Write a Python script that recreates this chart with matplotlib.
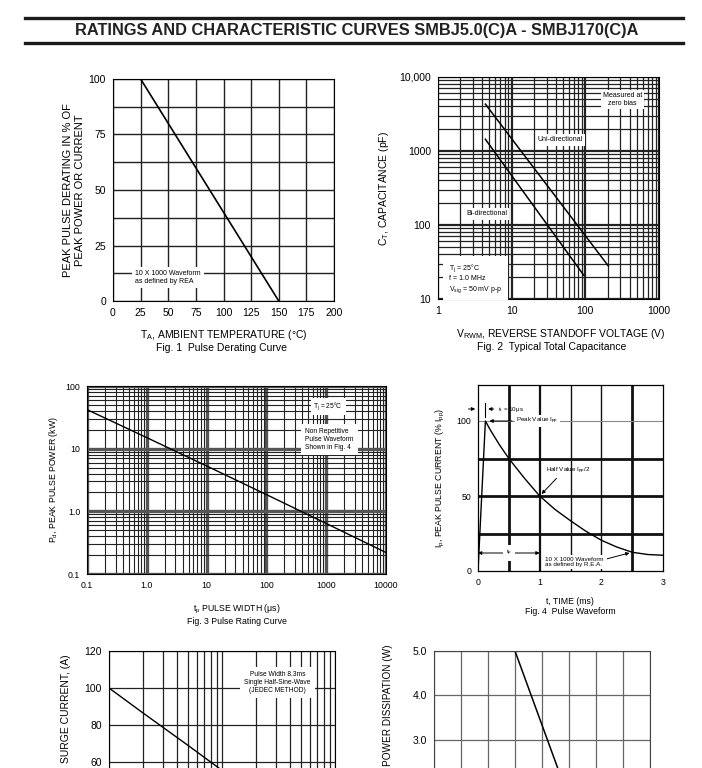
import numpy as np
import matplotlib
matplotlib.use("Agg")
import matplotlib.pyplot as plt
from matplotlib.ticker import LogLocator, FixedLocator, NullFormatter

plt.rcParams['font.family'] = ['Liberation Sans', 'DejaVu Sans']
plt.rcParams['mathtext.default'] = 'regular'

W, H = 702, 768

# Fig. 1 pulse derating
f1_temp = [0, 25, 150]
f1_pct = [100, 100, 0]

# Fig. 2 capacitance
f2_uni_v = [4.4, 205]
f2_uni_c = [4300, 28]
f2_bi_v = [4.4, 95]
f2_bi_c = [1440, 21]

# Fig. 3 pulse rating
f3_tp = [0.1, 1, 10, 100, 1000, 10000]
f3_pd = [42, 15, 5.3, 1.85, 0.64, 0.22]

# Fig. 4 pulse waveform
f4_t = [0, 0.12, 0.2, 0.35, 0.5, 0.75, 1.0, 1.25, 1.5, 1.75, 2.0, 2.25, 2.5, 2.75, 3.0]
f4_i = [0, 100, 94, 84, 75, 62, 50, 41, 33.5, 26.5, 20.5, 16, 12.5, 11, 10.5]

# Fig. 5 surge current (only the top of this chart is on the page)
f5_cycles = [1, 2, 5, 10, 20, 50, 100]
f5_amps = [100, 86.5, 69, 55.5, 42, 25, 11]

# Fig. 6 power dissipation
f6_temp = [0, 75, 150]
f6_watt = [5.0, 5.0, 0]


def box(l, t, r, b):
    return [l / W, (H - b) / H, (r - l) / W, (b - t) / H]


def ftext(x, y, s, **kw):
    fig.text(x / W, (H - y) / H, s, **kw)


wbox = dict(fc='white', ec='none', pad=1.5)

fig = plt.figure(figsize=(W / 100, H / 100), dpi=100)

# title and rules
fig.add_artist(plt.Line2D([25 / W, 683 / W], [(H - 18) / H] * 2, color='#1a1a1a', lw=2.4))
fig.add_artist(plt.Line2D([25 / W, 683 / W], [(H - 43) / H] * 2, color='#1a1a1a', lw=2.4))
ftext(357, 31, 'RATINGS AND CHARACTERISTIC CURVES SMBJ5.0(C)A - SMBJ170(C)A',
      ha='center', va='center', fontsize=11.8, fontweight='bold', color='#222')

# ---------- Fig 1 ----------
ax = fig.add_axes(box(113, 79, 334, 301))
ax.plot(f1_temp, f1_pct, color='black', lw=1.2)
ax.set_xlim(0, 200)
ax.set_ylim(0, 100)
ax.set_xticks(range(0, 201, 25))
ax.set_yticks([0, 25, 50, 75, 100])
ax.yaxis.set_minor_locator(FixedLocator([12.5, 37.5, 62.5, 87.5]))
ax.grid(which='both', color='#222', lw=1.0)
ax.tick_params(which='both', length=0, labelsize=7.5, pad=5)
ax.text(20, 10.5, '10 X 1000 Waveform\nas defined by REA', fontsize=5, va='center',
        bbox=dict(fc='white', ec='none', pad=2))
ax.set_ylabel('PEAK PULSE DERATING IN % OF\nPEAK POWER OR CURRENT', fontsize=8, labelpad=3)
ftext(224, 335, '$T_A$, AMBIENT TEMPERATURE ($\\degree$C)', ha='center', va='center', fontsize=7.5)
ftext(222, 348, 'Fig. 1  Pulse Derating Curve', ha='center', va='center', fontsize=7.5)

# ---------- Fig 2 ----------
ax = fig.add_axes(box(438, 77, 659, 299))
ax.set_xscale('log')
ax.set_yscale('log')
ax.plot(f2_uni_v, f2_uni_c, color='black', lw=1.1)
ax.plot(f2_bi_v, f2_bi_c, color='black', lw=1.1)
ax.set_xlim(1, 1000)
ax.set_ylim(10, 10000)
ax.set_xticks([1, 10, 100, 1000], ['1', '10', '100', '1000'])
ax.set_yticks([10, 100, 1000, 10000], ['10', '100', '1000', '10,000'])
for a in (ax.xaxis, ax.yaxis):
    a.set_minor_locator(LogLocator(subs=np.arange(2, 10)))
    a.set_minor_formatter(NullFormatter())
ax.grid(which='major', color='#222', lw=1.6)
ax.grid(which='minor', color='#222', lw=0.9)
ax.tick_params(which='both', length=0, labelsize=7.5, pad=5)
ax.text(320, 5000, 'Measured at\nzero bias', fontsize=5, ha='center', va='center', bbox=wbox)
ax.text(46, 1410, 'Uni-directional', fontsize=5, ha='center', va='center', bbox=wbox)
ax.text(4.6, 141, 'Bi-directional', fontsize=5, ha='center', va='center', bbox=wbox)
ax.text(1.4, 19, '$T_j$ = 25$\\degree$C\nf = 1.0 MHz\n$V_{sig}$ = 50 mV p-p', fontsize=5,
        va='center', linespacing=1.3, bbox=dict(fc='white', ec='none', pad=4))
ax.set_ylabel('$C_T$, CAPACITANCE (pF)', fontsize=7.5, labelpad=6)
ftext(561, 334, '$V_{RWM}$, REVERSE STANDOFF VOLTAGE (V)', ha='center', va='center', fontsize=7.5)
ftext(552, 347, 'Fig. 2  Typical Total Capacitance', ha='center', va='center', fontsize=7.5)

# ---------- Fig 3 ----------
ax = fig.add_axes(box(87, 386, 386, 574))
ax.set_xscale('log')
ax.set_yscale('log')
ax.plot(f3_tp, f3_pd, color='black', lw=1.0)
ax.set_xlim(0.1, 10000)
ax.set_ylim(0.1, 100)
ax.set_xticks([0.1, 1, 10, 100, 1000, 10000], ['0.1', '1.0', '10', '100', '1000', '10000'])
ax.set_yticks([0.1, 1, 10, 100], ['0.1', '1.0', '10', '100'])
for a in (ax.xaxis, ax.yaxis):
    a.set_minor_locator(LogLocator(subs=np.arange(2, 10)))
    a.set_minor_formatter(NullFormatter())
ax.grid(which='major', color='#555', lw=2.4)
ax.grid(which='minor', color='#222', lw=0.8)
ax.tick_params(which='both', length=0, labelsize=6.3, pad=5)
ax.text(1080, 47, '$T_j$ = 25$\\degree$C', fontsize=4.8, ha='center', va='center',
        bbox=dict(fc='white', ec='none', pad=2))
ax.text(450, 14, 'Non Repetitive\nPulse Waveform\nShown in Fig. 4', fontsize=4.8, va='center',
        bbox=dict(fc='white', ec='none', pad=3))
ax.set_ylabel('$P_d$, PEAK PULSE POWER (kW)', fontsize=6.3, labelpad=4)
ftext(237, 609, '$t_p$ PULSE WIDTH ($\\mu$s)', ha='center', va='center', fontsize=6.3)
ftext(237, 622, 'Fig. 3 Pulse Rating Curve', ha='center', va='center', fontsize=6.3)

# ---------- Fig 4 ----------
ax = fig.add_axes(box(478, 385, 663, 571))
ax.plot(f4_t, f4_i, color='black', lw=1.0)
ax.set_xlim(0, 3)
ax.set_ylim(0, 124)
ax.set_xticks([0, 1, 2, 3])
ax.set_yticks([0, 50, 100])
for xv, lw in [(0.5, 2.0), (1.0, 1.6), (1.5, 1.0), (2.0, 1.0), (2.5, 2.0)]:
    ax.axvline(xv, color='#111', lw=lw, zorder=0)
for yv in [25, 50, 75]:
    ax.axhline(yv, color='#111', lw=2.0, zorder=0)
ax.axhline(100, color='#888', lw=0.8, zorder=0)
for s in ax.spines.values():
    s.set_linewidth(0.9)
ax.tick_params(which='both', length=0, labelsize=6.3, pad=5)
# rise time marker
ax.plot([0.12, 0.12], [103, 112], color='black', lw=0.8)
ax.annotate('', xy=(0, 108), xytext=(-0.2, 108), annotation_clip=False,
            arrowprops=dict(arrowstyle='-|>', color='black', lw=0.7, mutation_scale=5))
ax.annotate('', xy=(0.12, 108), xytext=(0.3, 108),
            arrowprops=dict(arrowstyle='-|>', color='black', lw=0.7, mutation_scale=5))
ax.text(0.33, 108, '$t_r$ = 10$\\mu$s', fontsize=4.5, va='center')
ax.annotate('Peak Value $I_{pp}$', xy=(0.14, 100), xytext=(0.62, 100), fontsize=4.5, va='center',
            bbox=dict(fc='white', ec='none', pad=1),
            arrowprops=dict(arrowstyle='-|>', color='black', lw=0.7, mutation_scale=5))
ax.annotate('Half Value $I_{pp}$/2', xy=(1.0, 50), xytext=(1.1, 67), fontsize=4.5, va='center',
            arrowprops=dict(arrowstyle='-|>', color='black', lw=0.7, mutation_scale=5,
                            shrinkA=0, relpos=(0.3, 0)))
ax.annotate('', xy=(0, 12), xytext=(1, 12),
            arrowprops=dict(arrowstyle='<|-|>', color='black', lw=0.7, mutation_scale=5,
                            shrinkA=0, shrinkB=0))
ax.text(0.5, 12, '$t_p$', fontsize=4.5, ha='center', va='center',
        bbox=dict(fc='white', ec='none', pad=2))
ax.annotate('10 X 1000 Waveform\nas defined by R.E.A.', xy=(2.5, 12.5), xytext=(1.08, 6),
            fontsize=4.5, va='center', bbox=dict(fc='white', ec='none', pad=1),
            arrowprops=dict(arrowstyle='-|>', color='black', lw=0.7, mutation_scale=5,
                            relpos=(1, 0.7)))
ax.set_ylabel('$I_p$, PEAK PULSE CURRENT (% $I_{pp}$)', fontsize=6.3, labelpad=7)
ftext(570, 601, 't, TIME (ms)', ha='center', va='center', fontsize=6.3)
ftext(570, 612, 'Fig. 4  Pulse Waveform', ha='center', va='center', fontsize=6.3)

# ---------- Fig 5 (cut by the page edge) ----------
ax = fig.add_axes(box(109, 651, 335, 873))
ax.set_xscale('log')
ax.plot(f5_cycles, f5_amps, color='black', lw=1.0)
ax.set_xlim(1, 100)
ax.set_ylim(0, 120)
ax.set_yticks([60, 80, 100, 120])
ax.yaxis.set_minor_locator(FixedLocator([0, 20, 40]))
ax.xaxis.set_minor_locator(LogLocator(subs=np.arange(2, 10)))
ax.xaxis.set_minor_formatter(NullFormatter())
ax.set_xticklabels([])
ax.grid(which='both', color='#222', lw=0.9)
ax.tick_params(which='both', length=0, labelsize=7.5, pad=5)
ax.text(31, 103, 'Pulse Width 8.3ms\nSingle Half-Sine-Wave\n(JEDEC METHOD)', fontsize=4.8,
        ha='center', va='center', bbox=dict(fc='white', ec='none', pad=3))
ftext(66, 654, 'SURGE CURRENT, (A)', rotation=90, ha='center', va='top', fontsize=7.5)

# ---------- Fig 6 (cut by the page edge) ----------
ax = fig.add_axes(box(434, 651, 650, 873))
ax.plot(f6_temp, f6_watt, color='black', lw=1.1)
ax.set_xlim(0, 200)
ax.set_ylim(0, 5)
ax.set_xticks(range(0, 201, 25))
ax.set_xticklabels([])
ax.set_yticks([3, 4, 5], ['3.0', '4.0', '5.0'])
ax.yaxis.set_minor_locator(FixedLocator([1, 2]))
ax.grid(which='both', color='#666', lw=0.9)
for s in ax.spines.values():
    s.set_color('#444')
ax.tick_params(which='both', length=0, labelsize=7.5, pad=5)
ftext(388, 645, 'POWER DISSIPATION (W)', rotation=90, ha='center', va='top', fontsize=7.2)

fig.savefig('out.png', dpi=100)
